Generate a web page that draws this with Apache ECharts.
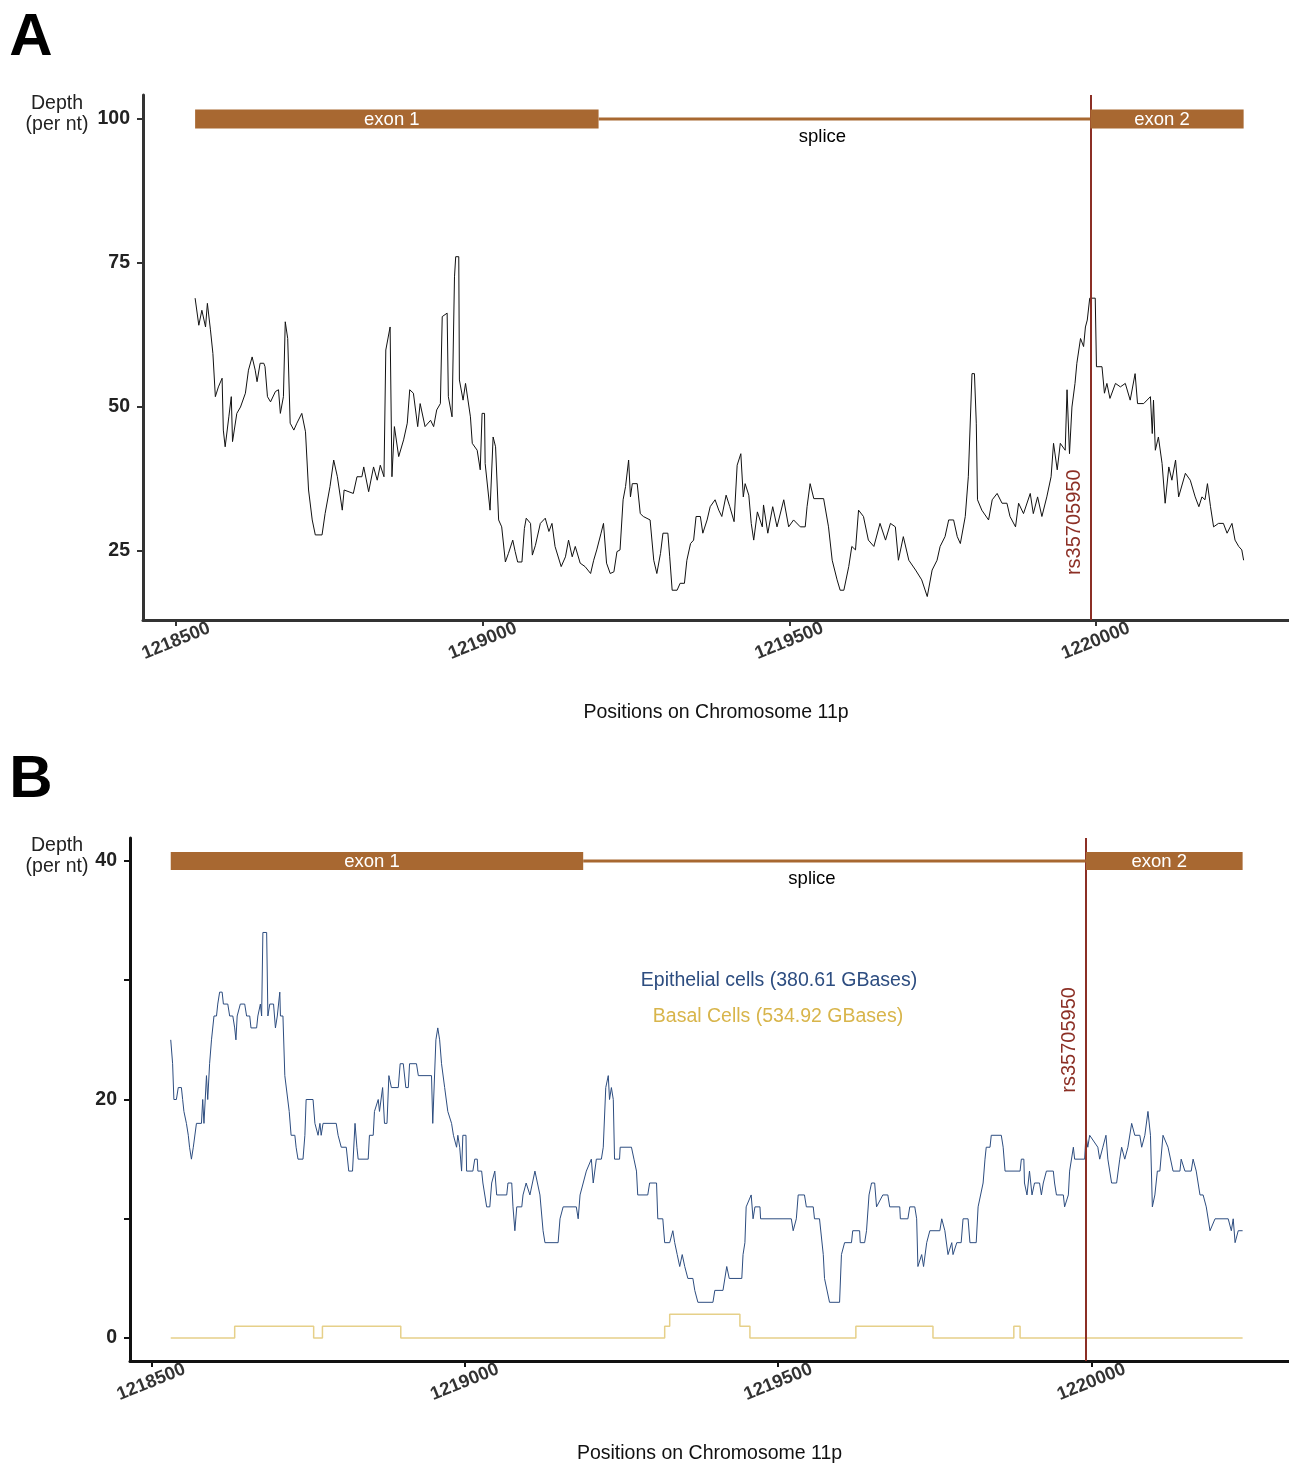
<!DOCTYPE html>
<html>
<head>
<meta charset="utf-8">
<script src="https://cdn.jsdelivr.net/npm/echarts@6/dist/echarts.min.js"></script>
<style>
  html, body { margin: 0; padding: 0; background: #fff; }
  #main { width: 1289px; height: 1465px; }
</style>
</head>
<body>
<div id="main"></div>
<script>
// gene model (positions on chr11p)
var exonStart = [1218531, 1219991];
var exonEnd = [1219189, 1220241];
var exonNames = ['exon 1', 'exon 2'];
var intron = [1219189, 1219991];
var spliceLabelPos = 1219554;
var snpPos = 1219991;
var snpName = 'rs35705950';

var xTicks = [1218500, 1219000, 1219500, 1220000];
var yTicksA = [25, 50, 75, 100];
var yTicksB = [0, 10, 20, 30, 40];
var yLabelsB = [0, 20, 40];

// panel A: depth per nt, [position, depth]
var depthA = [
  [1218531,68.9],[1218537,64.2],[1218542,66.8],[1218548,63.9],[1218551,68.0],[1218556,63.4],[1218560,59.3],[1218564,51.8],[1218569,53.5],[1218575,55.0],
  [1218577,46.0],[1218580,43.1],[1218586,48.3],[1218590,51.8],[1218592,44.0],[1218599,48.9],[1218605,50.0],[1218613,52.4],[1218618,56.4],[1218624,58.7],
  [1218629,56.4],[1218632,54.4],[1218637,57.6],[1218643,57.6],[1218645,57.0],[1218649,51.8],[1218654,50.9],[1218662,52.7],[1218667,53.0],[1218670,48.9],
  [1218675,51.8],[1218678,64.8],[1218682,61.9],[1218686,47.2],[1218692,46.0],[1218697,47.2],[1218705,48.9],[1218711,45.7],[1218716,35.6],[1218722,30.4],
  [1218727,27.8],[1218738,27.8],[1218743,31.5],[1218751,36.2],[1218757,40.8],[1218763,37.9],[1218771,32.1],[1218774,35.6],[1218789,35.0],[1218795,37.9],
  [1218803,37.9],[1218806,39.6],[1218814,35.3],[1218822,39.6],[1218828,37.3],[1218833,39.9],[1218839,37.9],[1218842,59.9],[1218849,63.9],[1218852,37.9],
  [1218856,46.6],[1218863,41.4],[1218871,44.3],[1218877,47.2],[1218881,53.0],[1218887,52.4],[1218894,46.6],[1218898,50.6],[1218906,46.6],[1218915,47.7],
  [1218920,46.6],[1218925,49.5],[1218931,50.6],[1218934,65.7],[1218942,66.3],[1218944,51.8],[1218950,48.3],[1218954,72.6],[1218956,76.1],[1218961,76.1],
  [1218962,54.7],[1218968,51.2],[1218972,54.1],[1218980,48.3],[1218983,43.7],[1218991,42.5],[1218996,39.1],[1218999,48.9],[1219003,48.9],[1219004,40.2],
  [1219012,32.1],[1219017,44.8],[1219021,43.1],[1219026,30.4],[1219031,29.2],[1219037,23.1],[1219042,24.6],[1219049,26.9],[1219053,24.9],[1219057,23.1],
  [1219064,23.1],[1219068,28.9],[1219071,30.7],[1219078,29.8],[1219081,24.3],[1219086,26.0],[1219094,29.8],[1219102,30.7],[1219108,28.4],[1219113,29.8],
  [1219118,25.8],[1219128,22.3],[1219135,24.0],[1219140,26.9],[1219146,24.0],[1219151,25.8],[1219159,22.9],[1219167,22.3],[1219176,21.1],[1219181,23.4],
  [1219186,25.2],[1219193,28.1],[1219197,29.8],[1219202,22.9],[1219208,21.1],[1219214,21.4],[1219219,24.9],[1219224,25.2],[1219229,33.9],[1219233,36.2],
  [1219238,40.8],[1219241,34.4],[1219244,36.7],[1219252,36.7],[1219257,31.5],[1219262,31.0],[1219273,30.4],[1219279,23.4],[1219284,21.1],[1219290,24.6],
  [1219294,28.1],[1219302,28.1],[1219305,24.0],[1219309,18.2],[1219317,18.2],[1219322,19.4],[1219329,19.4],[1219333,23.4],[1219339,26.3],[1219344,26.9],
  [1219348,31.0],[1219355,31.0],[1219359,28.1],[1219366,30.4],[1219371,32.7],[1219379,33.9],[1219385,32.1],[1219390,31.0],[1219397,34.7],[1219403,32.7],
  [1219410,30.1],[1219415,39.9],[1219421,41.9],[1219425,34.4],[1219428,36.7],[1219434,34.7],[1219438,29.8],[1219442,26.9],[1219448,31.8],[1219456,29.2],
  [1219458,33.0],[1219465,28.1],[1219473,32.7],[1219480,29.2],[1219491,33.9],[1219499,29.2],[1219507,30.4],[1219518,29.2],[1219526,29.2],[1219529,32.7],
  [1219534,36.7],[1219540,34.1],[1219556,34.1],[1219564,29.2],[1219570,23.4],[1219578,20.0],[1219583,18.2],[1219589,18.2],[1219597,22.3],[1219602,25.8],
  [1219608,25.2],[1219613,32.1],[1219621,31.0],[1219629,26.9],[1219638,25.8],[1219648,29.8],[1219657,26.9],[1219665,29.8],[1219673,29.2],[1219678,23.4],
  [1219686,27.5],[1219695,23.4],[1219706,21.7],[1219716,20.0],[1219725,17.1],[1219733,21.7],[1219741,23.4],[1219746,25.8],[1219754,27.5],[1219760,30.4],
  [1219768,30.4],[1219774,27.5],[1219779,26.3],[1219787,31.0],[1219792,37.9],[1219798,55.8],[1219802,55.8],[1219805,47.2],[1219807,33.9],[1219814,32.1],
  [1219825,30.4],[1219831,33.9],[1219839,35.0],[1219847,33.3],[1219855,33.3],[1219860,31.0],[1219869,29.2],[1219874,33.3],[1219882,31.5],[1219893,35.0],
  [1219898,31.5],[1219905,34.4],[1219912,31.0],[1219920,34.4],[1219927,37.9],[1219931,43.7],[1219937,39.1],[1219942,43.7],[1219950,42.5],[1219953,53.0],
  [1219957,41.9],[1219961,50.0],[1219966,54.1],[1219969,57.6],[1219975,61.9],[1219980,60.5],[1219983,63.9],[1219986,65.1],[1219990,68.9],[1219999,68.9],
  [1220001,57.0],[1220010,57.0],[1220014,52.4],[1220018,54.1],[1220023,51.5],[1220032,54.1],[1220040,53.5],[1220048,54.1],[1220056,51.2],[1220064,55.8],
  [1220068,50.6],[1220078,50.6],[1220089,51.8],[1220092,45.4],[1220094,51.2],[1220097,42.5],[1220102,44.8],[1220108,40.2],[1220113,33.3],[1220119,39.6],
  [1220124,37.3],[1220130,40.8],[1220135,34.4],[1220146,38.5],[1220154,37.3],[1220162,34.4],[1220168,32.7],[1220173,34.4],[1220178,33.9],[1220182,36.7],
  [1220187,32.7],[1220192,29.2],[1220200,29.8],[1220208,29.8],[1220214,28.1],[1220222,29.8],[1220227,26.9],[1220233,25.8],[1220238,25.2],[1220241,23.4]
];

// panel B: epithelial cells, [position, depth]
var epithelial = [
  [1218531,25],[1218534,23],[1218536,20],[1218540,20],[1218543,21],[1218548,21],[1218550,20],[1218552,19],[1218556,18],[1218559,17],
  [1218561,16],[1218564,15],[1218567,16],[1218572,18],[1218580,18],[1218582,20],[1218584,18],[1218588,22],[1218590,20],[1218593,23],
  [1218596,25],[1218600,27],[1218604,27],[1218606,28],[1218609,29],[1218613,29],[1218615,28],[1218622,28],[1218625,27],[1218630,27],
  [1218633,26],[1218635,25],[1218637,27],[1218640,27],[1218642,28],[1218649,28],[1218652,27],[1218657,27],[1218659,26],[1218668,26],
  [1218670,27],[1218674,28],[1218676,27],[1218678,34],[1218684,34],[1218686,27],[1218689,28],[1218695,28],[1218698,26],[1218701,27],
  [1218705,29],[1218706,27],[1218710,27],[1218713,22],[1218716,22],[1218720,19],[1218723,17],[1218729,17],[1218731,16],[1218734,15],
  [1218742,15],[1218745,17],[1218747,20],[1218758,20],[1218761,18],[1218766,17],[1218769,18],[1218771,17],[1218774,18],[1218795,18],
  [1218798,17],[1218803,16],[1218811,16],[1218815,14],[1218821,14],[1218825,18],[1218828,16],[1218830,15],[1218846,15],[1218848,17],
  [1218854,17],[1218856,19],[1218862,20],[1218864,19],[1218869,21],[1218872,18],[1218876,18],[1218879,22],[1218883,21],[1218894,21],
  [1218897,23],[1218902,23],[1218906,21],[1218910,21],[1218912,23],[1218923,23],[1218926,22],[1218947,22],[1218949,18],[1218954,25],
  [1218957,26],[1218960,25],[1218963,23],[1218968,21],[1218973,19],[1218979,18],[1218982,17],[1218987,16],[1218989,17],[1218992,16],
  [1218995,14],[1218997,17],[1219002,17],[1219003,14],[1219013,14],[1219016,15],[1219020,15],[1219021,14],[1219027,14],[1219029,13],
  [1219035,11],[1219040,11],[1219043,13],[1219048,14],[1219051,12],[1219067,12],[1219069,13],[1219075,13],[1219077,11],[1219080,9],
  [1219083,11],[1219091,11],[1219093,12],[1219098,13],[1219104,12],[1219106,12],[1219112,14],[1219114,14],[1219120,12],[1219125,9],
  [1219128,8],[1219149,8],[1219152,10],[1219157,11],[1219178,11],[1219181,10],[1219184,12],[1219194,14],[1219202,15],[1219205,13],
  [1219210,15],[1219218,15],[1219221,16],[1219225,21],[1219229,22],[1219231,20],[1219234,21],[1219237,20],[1219239,15],[1219247,15],
  [1219248,16],[1219266,16],[1219270,15],[1219274,14],[1219276,12],[1219292,12],[1219295,13],[1219306,13],[1219308,10],[1219316,10],
  [1219319,8],[1219327,8],[1219332,9],[1219335,8],[1219339,7],[1219343,6],[1219347,7],[1219351,6],[1219356,5],[1219364,5],
  [1219367,4],[1219372,3],[1219396,3],[1219399,4],[1219412,4],[1219418,6],[1219420,6],[1219422,5],[1219442,5],[1219444,7],
  [1219447,8],[1219449,11],[1219457,12],[1219460,10],[1219463,11],[1219471,11],[1219472,10],[1219521,10],[1219524,9],[1219529,10],
  [1219532,12],[1219542,12],[1219545,11],[1219556,11],[1219558,10],[1219566,10],[1219572,7],[1219574,5],[1219582,3],[1219598,3],
  [1219601,7],[1219606,8],[1219617,8],[1219619,9],[1219630,9],[1219631,8],[1219638,8],[1219641,9],[1219645,12],[1219649,13],
  [1219654,13],[1219657,11],[1219667,12],[1219675,12],[1219678,11],[1219694,11],[1219695,10],[1219707,10],[1219710,11],[1219718,11],
  [1219721,10],[1219723,6],[1219729,7],[1219732,6],[1219737,8],[1219742,9],[1219758,9],[1219761,10],[1219766,9],[1219771,7],
  [1219777,8],[1219779,7],[1219785,8],[1219792,8],[1219795,10],[1219803,10],[1219806,8],[1219816,8],[1219819,11],[1219827,13],
  [1219830,15],[1219832,16],[1219838,16],[1219840,17],[1219856,17],[1219859,16],[1219862,14],[1219886,14],[1219888,15],[1219892,15],
  [1219893,13],[1219897,12],[1219901,14],[1219905,12],[1219909,13],[1219917,13],[1219920,12],[1219923,13],[1219928,14],[1219939,14],
  [1219941,13],[1219944,12],[1219955,12],[1219957,11],[1219963,12],[1219965,14],[1219971,16],[1219973,15],[1219989,15],[1219991,17],
  [1219994,16],[1219997,17],[1220010,16],[1220013,15],[1220018,16],[1220023,17],[1220026,15],[1220032,13],[1220040,13],[1220045,15],
  [1220048,16],[1220053,15],[1220058,16],[1220064,18],[1220069,17],[1220077,17],[1220080,16],[1220085,17],[1220090,19],[1220094,17],
  [1220097,11],[1220101,12],[1220105,14],[1220109,14],[1220114,17],[1220122,16],[1220130,14],[1220141,14],[1220143,15],[1220149,14],
  [1220159,14],[1220162,15],[1220167,14],[1220173,12],[1220178,12],[1220183,11],[1220189,9],[1220197,10],[1220218,10],[1220223,9],
  [1220226,10],[1220229,8],[1220234,9],[1220241,9]
];

// panel B: basal cells, step breakpoints [position, depth]
var basal = [
  [1218531,0],[1218633,1],[1218759,0],[1218773,1],[1218898,0],[1219319,1],[1219327,2],
  [1219439,1],[1219455,0],[1219624,1],[1219747,0],[1219876,1],[1219886,0],[1220241,0]
];

var epiLabel = 'Epithelial cells (380.61 GBases)';
var basalLabel = 'Basal Cells (534.92 GBases)';

var FONT = '"Liberation Sans", Arial, Helvetica, sans-serif';
var BROWN = '#A86831';
var SNP_RED = '#8C2F25';
var EPI_BLUE = '#2D4D80';
var BASAL_GOLD = '#D8B54B';

var chart = echarts.init(document.getElementById('main'));

function xAxisFor(gridIndex, min, max, color) {
  return {
    type: 'value', gridIndex: gridIndex, min: min, max: max,
    axisLine: { show: true, onZero: false, lineStyle: { color: color, width: 3 } },
    axisTick: { show: true, length: 6, customValues: xTicks, lineStyle: { color: color, width: 2 } },
    axisLabel: {
      customValues: xTicks, rotate: 22, align: 'center', verticalAlign: 'middle', margin: 21,
      fontSize: 18.5, fontWeight: 'bold', color: '#333', fontFamily: FONT,
      formatter: function (v) { return String(v); }
    },
    splitLine: { show: false },
    name: 'Positions on Chromosome 11p', nameLocation: 'middle', nameGap: 83,
    nameTextStyle: { fontSize: 19.5, color: '#111', fontFamily: FONT }
  };
}

function yAxisFor(gridIndex, min, max, ticks, labels, color) {
  return {
    type: 'value', gridIndex: gridIndex, min: min, max: max,
    axisLine: { show: true, onZero: false, lineStyle: { color: color, width: 3 } },
    axisTick: { show: true, length: 6, customValues: ticks, lineStyle: { color: color, width: 2 } },
    axisLabel: {
      customValues: labels, margin: 13, fontSize: 19.5, fontWeight: 'bold',
      color: '#222', fontFamily: FONT
    },
    splitLine: { show: false }
  };
}

// exon boxes + splice line, drawn in data coordinates
function geneSeries(idx, level, barH) {
  var rows = [[intron[0], intron[1], level, 1, -1]];
  exonStart.forEach(function (s, i) { rows.push([s, exonEnd[i], level, 0, i]); });
  return {
    type: 'custom', xAxisIndex: idx, yAxisIndex: idx, silent: true, clip: false, z: 5,
    encode: { x: [0, 1], y: 2 },
    data: rows,
    renderItem: function (params, api) {
      var y = api.value(2);
      var a = api.coord([api.value(0), y]);
      var b = api.coord([api.value(1), y]);
      if (api.value(3) === 1) {
        var lab = api.coord([spliceLabelPos, y]);
        return {
          type: 'group', children: [
            { type: 'line', shape: { x1: a[0], y1: a[1], x2: b[0], y2: b[1] }, style: { stroke: BROWN, lineWidth: 3 } },
            { type: 'text', style: { text: 'splice', x: lab[0], y: lab[1] + 18, align: 'center', verticalAlign: 'middle',
              fill: '#000', fontSize: 18.5, fontFamily: FONT } }
          ]
        };
      }
      return {
        type: 'group', children: [
          { type: 'rect', shape: { x: a[0], y: a[1] - barH / 2, width: b[0] - a[0], height: barH }, style: { fill: BROWN } },
          { type: 'text', style: { text: exonNames[api.value(4)], x: (a[0] + b[0]) / 2 - 5, y: a[1] + 1, align: 'center',
            verticalAlign: 'middle', fill: '#fff', fontSize: 18.5, fontFamily: FONT } }
        ]
      };
    }
  };
}

function snpLabelSeries(idx, depth) {
  return {
    type: 'custom', xAxisIndex: idx, yAxisIndex: idx, silent: true, clip: false, z: 6,
    data: [[snpPos, depth]],
    renderItem: function (params, api) {
      var p = api.coord([api.value(0), api.value(1)]);
      return {
        type: 'text', x: p[0] - 16, y: p[1], rotation: Math.PI / 2,
        style: { text: snpName, align: 'center', verticalAlign: 'middle', fill: SNP_RED, fontSize: 20, fontFamily: FONT }
      };
    }
  };
}

var snpMark = {
  silent: true, symbol: ['none', 'none'], animation: false,
  label: { show: false },
  lineStyle: { color: SNP_RED, width: 2, type: 'solid' },
  data: [{ xAxis: snpPos }]
};

chart.setOption({
  animation: false,
  backgroundColor: '#fff',
  grid: [
    { left: 143, right: 0, top: 95, height: 525 },
    { left: 130, right: 0, top: 838, height: 524 }
  ],
  xAxis: [
    xAxisFor(0, 1218446, 1220315, '#333'),
    xAxisFor(1, 1218466, 1220315, '#111')
  ],
  yAxis: [
    yAxisFor(0, 13.03, 104.17, yTicksA, yTicksA, '#333'),
    yAxisFor(1, -1.92, 41.92, yTicksB, yLabelsB, '#111')
  ],
  series: [
    {
      type: 'line', xAxisIndex: 0, yAxisIndex: 0, data: depthA,
      symbol: 'none', showSymbol: false, lineStyle: { color: '#111', width: 1 },
      markLine: snpMark, z: 3
    },
    geneSeries(0, 100, 19),
    snpLabelSeries(0, 30),
    {
      type: 'line', xAxisIndex: 1, yAxisIndex: 1, data: basal, step: 'end',
      symbol: 'none', showSymbol: false, lineStyle: { color: '#E6D089', width: 1.5 }, z: 2
    },
    {
      type: 'line', xAxisIndex: 1, yAxisIndex: 1, data: epithelial,
      symbol: 'none', showSymbol: false, lineStyle: { color: EPI_BLUE, width: 1 },
      markLine: snpMark, z: 3
    },
    geneSeries(1, 40, 18),
    snpLabelSeries(1, 25)
  ],
  graphic: [
    { type: 'text', x: 31, y: 38, style: { text: 'A', align: 'center', verticalAlign: 'middle', fill: '#000',
      fontSize: 60, fontWeight: 'bold', fontFamily: FONT } },
    { type: 'text', x: 31, y: 780, style: { text: 'B', align: 'center', verticalAlign: 'middle', fill: '#000',
      fontSize: 60, fontWeight: 'bold', fontFamily: FONT } },
    { type: 'text', x: 57, y: 114, style: { text: 'Depth\n(per nt)', align: 'center', verticalAlign: 'middle',
      lineHeight: 21, fill: '#222', fontSize: 19.5, fontFamily: FONT } },
    { type: 'text', x: 57, y: 856, style: { text: 'Depth\n(per nt)', align: 'center', verticalAlign: 'middle',
      lineHeight: 21, fill: '#222', fontSize: 19.5, fontFamily: FONT } },
    { type: 'text', x: 779, y: 981, style: { text: epiLabel, align: 'center', verticalAlign: 'middle',
      fill: EPI_BLUE, fontSize: 19.5, fontFamily: FONT } },
    { type: 'text', x: 778, y: 1017, style: { text: basalLabel, align: 'center', verticalAlign: 'middle',
      fill: BASAL_GOLD, fontSize: 19.5, fontFamily: FONT } }
  ]
});
</script>
</body>
</html>
